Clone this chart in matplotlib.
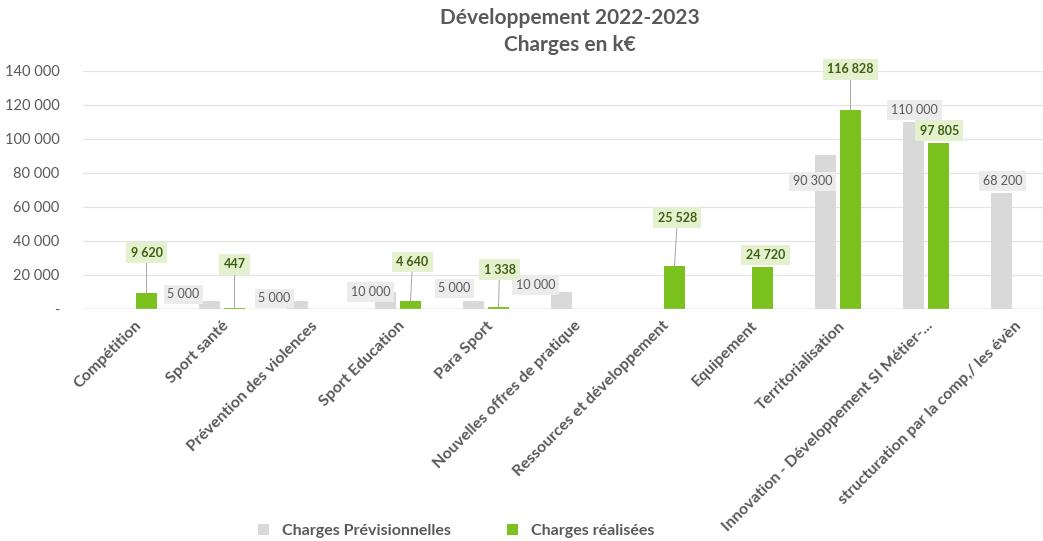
import matplotlib
matplotlib.use("Agg")
import matplotlib.pyplot as plt
from matplotlib.ticker import FuncFormatter

plt.rcParams["font.family"] = ["Lato", "DejaVu Sans"]

categories = [
    "Compétition",
    "Sport santé",
    "Prévention des violences",
    "Sport Education",
    "Para Sport",
    "Nouvelles offres de pratique",
    "Ressources et développement",
    "Equipement",
    "Territorialisation",
    "Innovation - Développement SI Métier-...",
    "structuration par la comp,/ les évèn",
]
previsionnelles = [0, 5000, 5000, 10000, 5000, 10000, 0, 0, 90300, 110000, 68200]
realisees = [9620, 447, 0, 4640, 1338, 0, 25528, 24720, 116828, 97805, 0]

# label offsets in pixels (dx, dy) from the top of each bar
prev_offsets = [None, (-26, 6), (-23, 2), (-15, 0), (-19, 12), (-26, 7),
                None, None, (-13, -26), (1, 12), (1, 12)]
real_offsets = [(0, 40), (0, 44), None, (2, 39), (1, 37), None,
                (3, 48), (3, 12), (0, 41), (1, 12), None]

GRAY = "#d9d9d9"
GREEN = "#7cc21e"
TEXT = "#595959"


def fmt(v):
    return f"{int(v):,}".replace(",", " ")


fig = plt.figure(figsize=(10.43, 5.41), dpi=100)
ax = fig.add_axes([83 / 1043, 1 - 309 / 541, 1 - 83 / 1043, (309 - 71) / 541])

x = list(range(len(categories)))
off = 0.142
w = 0.23
ax.bar([i - off for i in x], previsionnelles, width=w, color=GRAY, zorder=2,
       label="Charges Prévisionnelles")
ax.bar([i + off for i in x], realisees, width=w, color=GREEN, zorder=2,
       label="Charges réalisées")

for i, (v, o) in enumerate(zip(previsionnelles, prev_offsets)):
    if o is None:
        continue
    ax.annotate(fmt(v), (i - off, v), xytext=o, textcoords="offset pixels",
                ha="center", va="center", fontsize=9, color=TEXT,
                bbox=dict(boxstyle="square,pad=0.3", fc="#ececec", ec="none"),
                annotation_clip=False, zorder=4)

for i, (v, o) in enumerate(zip(realisees, real_offsets)):
    if o is None:
        continue
    arrow = None
    if o[1] > 20:
        arrow = dict(arrowstyle="-", color="#a6a6a6", lw=0.7, shrinkA=0, shrinkB=0)
    ax.annotate(fmt(v), (i + off, v), xytext=o, textcoords="offset pixels",
                ha="center", va="center", fontsize=9, fontweight="bold",
                color="#3f5f12",
                bbox=dict(boxstyle="square,pad=0.35", fc="#e4f1cf", ec="none"),
                arrowprops=arrow, annotation_clip=False, zorder=4)

ax.set_xlim(-0.58, 10.33)
ax.set_ylim(0, 140000)
ax.set_yticks(range(0, 140001, 20000))
ax.yaxis.set_major_formatter(FuncFormatter(lambda v, p: "-" if v == 0 else fmt(v)))
ax.grid(axis="y", color="#e3e3e3", lw=0.9, zorder=0)
ax.axhline(0, color="#cfcfcf", lw=1, zorder=3)
for s in ax.spines.values():
    s.set_visible(False)
ax.tick_params(axis="y", length=0, pad=17, labelsize=10.5, labelcolor=TEXT)
ax.tick_params(axis="x", length=0, pad=7)
ax.set_xticks(x)
ax.set_xticklabels(categories, rotation=45, ha="right", rotation_mode="anchor",
                   fontsize=11.5, fontweight="bold", color=TEXT)

fig.text(570 / 1043, 1 - 18 / 541, "Développement 2022-2023", ha="center",
         va="center", fontsize=15, fontweight="bold", color=TEXT)
fig.text(570 / 1043, 1 - 45 / 541, "Charges en k€", ha="center",
         va="center", fontsize=15, fontweight="bold", color=TEXT)

fig.legend(loc="center", bbox_to_anchor=(456 / 1043, 1 - 531 / 541), ncol=2,
           frameon=False, handlelength=0.7, handleheight=0.7, columnspacing=3.5,
           handletextpad=0.8, prop=dict(size=11.5, weight="bold"),
           labelcolor=TEXT)

fig.savefig("out.png", dpi=100)
